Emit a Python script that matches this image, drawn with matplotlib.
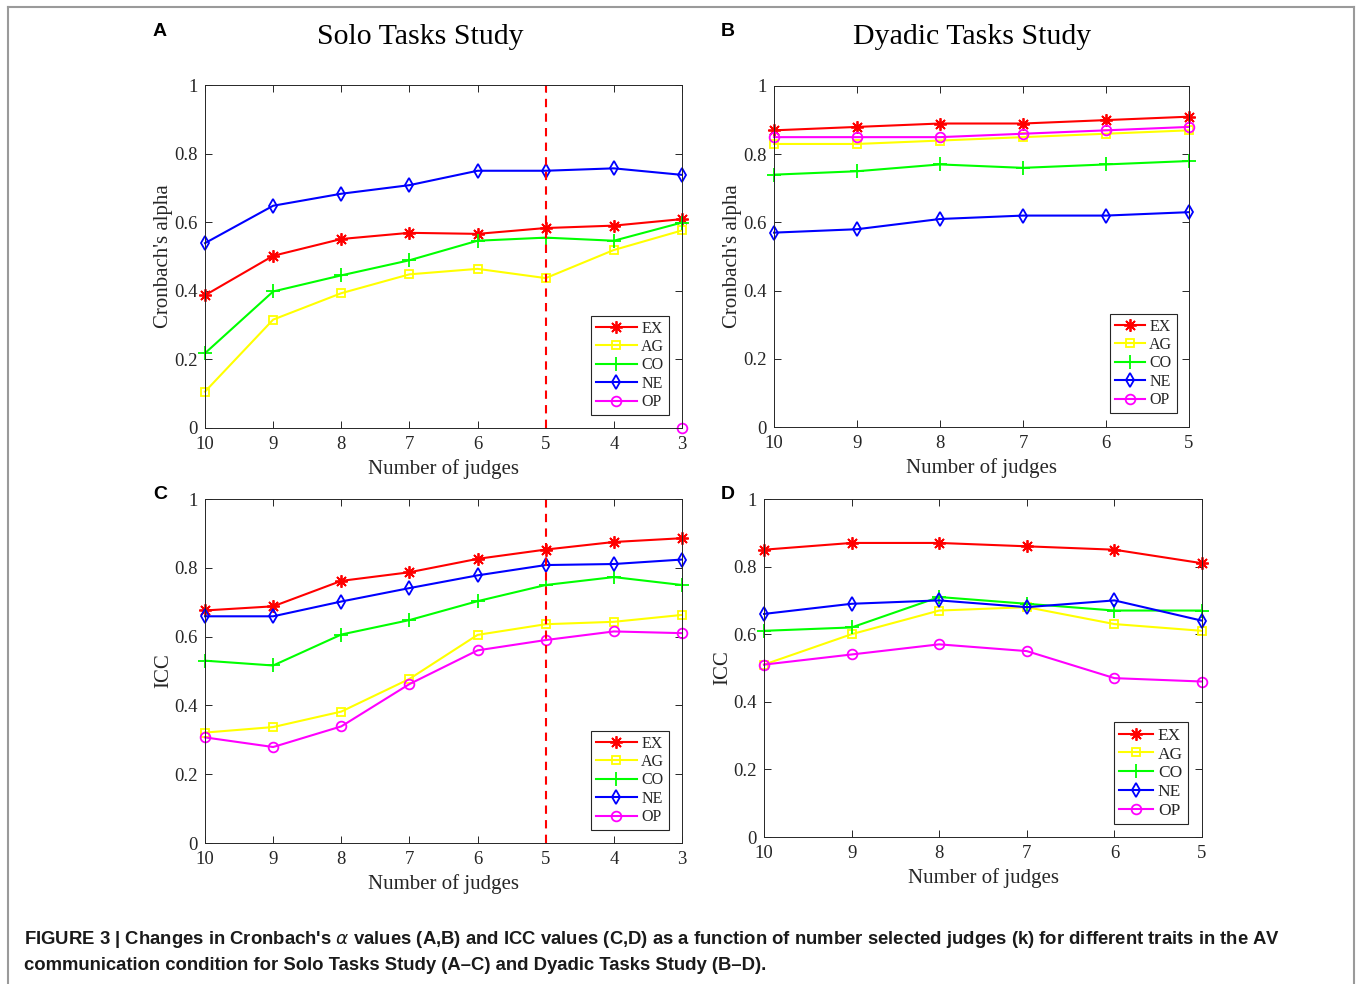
import numpy as np
import matplotlib
matplotlib.use("Agg")
import matplotlib.pyplot as plt
from matplotlib.lines import Line2D

# judges kept, x axis (reversed)
k_solo = [10, 9, 8, 7, 6, 5, 4, 3]
k_dyad = [10, 9, 8, 7, 6, 5]
traits = ["EX", "AG", "CO", "NE", "OP"]

# A: Cronbach's alpha, solo
alpha_solo_EX = [0.387, 0.502, 0.551, 0.569, 0.566, 0.583, 0.590, 0.609]
alpha_solo_AG = [0.106, 0.316, 0.393, 0.448, 0.464, 0.437, 0.519, 0.576]
alpha_solo_CO = [0.218, 0.398, 0.445, 0.489, 0.546, 0.555, 0.546, 0.599]
alpha_solo_NE = [0.539, 0.648, 0.683, 0.708, 0.750, 0.750, 0.757, 0.738]
alpha_solo_OP = [np.nan, np.nan, np.nan, np.nan, np.nan, np.nan, np.nan, 0.0]

# B: Cronbach's alpha, dyadic
alpha_dyad_EX = [0.87, 0.88, 0.89, 0.89, 0.90, 0.91]
alpha_dyad_AG = [0.83, 0.83, 0.84, 0.85, 0.86, 0.87]
alpha_dyad_CO = [0.74, 0.75, 0.77, 0.76, 0.77, 0.78]
alpha_dyad_NE = [0.57, 0.58, 0.61, 0.62, 0.62, 0.63]
alpha_dyad_OP = [0.85, 0.85, 0.85, 0.86, 0.87, 0.88]

# C: ICC, solo
icc_solo_EX = [0.676, 0.688, 0.762, 0.787, 0.826, 0.853, 0.875, 0.886]
icc_solo_AG = [0.321, 0.337, 0.382, 0.477, 0.605, 0.636, 0.643, 0.663]
icc_solo_CO = [0.530, 0.516, 0.606, 0.648, 0.703, 0.750, 0.773, 0.750]
icc_solo_NE = [0.659, 0.659, 0.702, 0.741, 0.778, 0.808, 0.811, 0.824]
icc_solo_OP = [0.307, 0.279, 0.339, 0.462, 0.560, 0.590, 0.615, 0.610]

# D: ICC, dyadic
icc_dyad_EX = [0.85, 0.87, 0.87, 0.86, 0.85, 0.81]
icc_dyad_AG = [0.51, 0.60, 0.67, 0.68, 0.63, 0.61]
icc_dyad_CO = [0.61, 0.62, 0.71, 0.69, 0.67, 0.67]
icc_dyad_NE = [0.66, 0.69, 0.70, 0.68, 0.70, 0.64]
icc_dyad_OP = [0.51, 0.54, 0.57, 0.55, 0.47, 0.46]

colors = ["#ff0000", "#ffff00", "#00ff00", "#0000ff", "#ff00ff"]
markers = [(8, 2, 0), "s", "+", "d", "o"]
msizes = [9, 6, 10, 7, 7]

W, H = 1359, 984
fig = plt.figure(figsize=(W / 100, H / 100), dpi=100)
serif = "Liberation Serif"
axc = "#262626"


def box(l, r, t, b):
    return [l / W, 1 - b / H, (r - l) / W, (b - t) / H]


def panel(rect, x, series, ylabel, xmin, vline, leg_rect, leg_fs, hlen):
    ax = fig.add_axes(rect)
    for i, ys in enumerate(series):
        ax.plot(x, ys, color=colors[i], marker=markers[i], ms=msizes[i],
                mfc="none", mec=colors[i], mew=1.3, lw=1.5, label=traits[i],
                clip_on=False)
    if vline:
        ax.plot([5, 5], [0, 1], color="#ff0000", lw=1.5, ls=(0, (4, 3)))
    ax.set_xlim(10, xmin)
    ax.set_ylim(0, 1)
    ax.set_xticks(x)
    ax.set_yticks([0, 0.2, 0.4, 0.6, 0.8, 1])
    ax.set_yticklabels(["0", "0.2", "0.4", "0.6", "0.8", "1"])
    ax.tick_params(direction="in", top=True, right=True, length=5, width=0.7,
                   colors=axc, labelsize=13.5)
    ax.tick_params(axis="x", pad=6)
    ax.tick_params(axis="y", pad=5)
    for t in ax.get_xticklabels() + ax.get_yticklabels():
        t.set_fontfamily(serif)
    for s in ax.spines.values():
        s.set_color(axc)
        s.set_linewidth(0.7)
    ax.set_xlabel("Number of judges", fontsize=15, family=serif, color=axc,
                  labelpad=4)
    ax.set_ylabel(ylabel, fontsize=15, family=serif, color=axc, labelpad=1)
    l, r, t, b = leg_rect
    al, ab, aw, ah = ax.get_position().bounds
    anchor = ((r / W - al) / aw, ((1 - b / H) - ab) / ah)
    leg = ax.legend(loc="lower right", bbox_to_anchor=anchor, borderaxespad=0,
                    prop={"family": serif, "size": leg_fs}, fancybox=False,
                    edgecolor=axc, framealpha=1, handlelength=hlen,
                    handletextpad=0.25, labelspacing=0.15, borderpad=0.3)
    leg.get_frame().set_linewidth(0.8)
    for txt in leg.get_texts():
        txt.set_color(axc)
    return ax


panel(box(205, 682, 85, 428), k_solo,
      [alpha_solo_EX, alpha_solo_AG, alpha_solo_CO, alpha_solo_NE, alpha_solo_OP],
      "Cronbach's alpha", 3, True, (591, 669, 317, 415), 11.5, 2.6)
panel(box(774, 1189, 86, 427), k_dyad,
      [alpha_dyad_EX, alpha_dyad_AG, alpha_dyad_CO, alpha_dyad_NE, alpha_dyad_OP],
      "Cronbach's alpha", 5, False, (1114, 1177, 313, 413), 11.5, 1.9)
panel(box(205, 682, 499, 843), k_solo,
      [icc_solo_EX, icc_solo_AG, icc_solo_CO, icc_solo_NE, icc_solo_OP],
      "ICC", 3, True, (591, 669, 733, 830), 11.5, 2.6)
panel(box(764, 1202, 499, 837), k_dyad,
      [icc_dyad_EX, icc_dyad_AG, icc_dyad_CO, icc_dyad_NE, icc_dyad_OP],
      "ICC", 5, False, (1122, 1188, 717, 824), 12.5, 2.0)

# panel letters and titles
for lab, px, py in [("A", 160, 31), ("B", 728, 31), ("C", 160, 494), ("D", 728, 494)]:
    fig.text(px / W, 1 - py / H, lab, fontsize=14, fontweight="bold",
             family="Liberation Sans", ha="center", va="center")
fig.text(420 / W, 1 - 37 / H, "Solo Tasks Study", fontsize=21.5, family=serif,
         ha="center", va="center")
fig.text(972 / W, 1 - 37 / H, "Dyadic Tasks Study", fontsize=21.5, family=serif,
         ha="center", va="center")

# caption
cap1 = (r"FIGURE 3 | Changes in Cronbach's $\alpha$ values (A,B) and ICC values (C,D) as a function "
        "of number selected judges (k) for different traits in the AV")
cap2 = "communication condition for Solo Tasks Study (A\u2013C) and Dyadic Tasks Study (B\u2013D)."
fig.text(24 / W, 1 - 940 / H, cap1, fontsize=13.3, fontweight="bold",
         family="Liberation Sans", ha="left", va="center", color="#1a1a1a")
fig.text(24 / W, 1 - 966 / H, cap2, fontsize=13.3, fontweight="bold",
         family="Liberation Sans", ha="left", va="center", color="#1a1a1a")

# outer frame of the figure page
fc = "#9a9a9a"
fig.add_artist(Line2D([8 / W, 1354 / W], [1 - 7 / H, 1 - 7 / H], color=fc, lw=1.5))
fig.add_artist(Line2D([8 / W, 8 / W], [1 - 7 / H, 0], color=fc, lw=1.5))
fig.add_artist(Line2D([1354 / W, 1354 / W], [1 - 7 / H, 0], color=fc, lw=1.5))

fig.savefig("out.png", dpi=100)
